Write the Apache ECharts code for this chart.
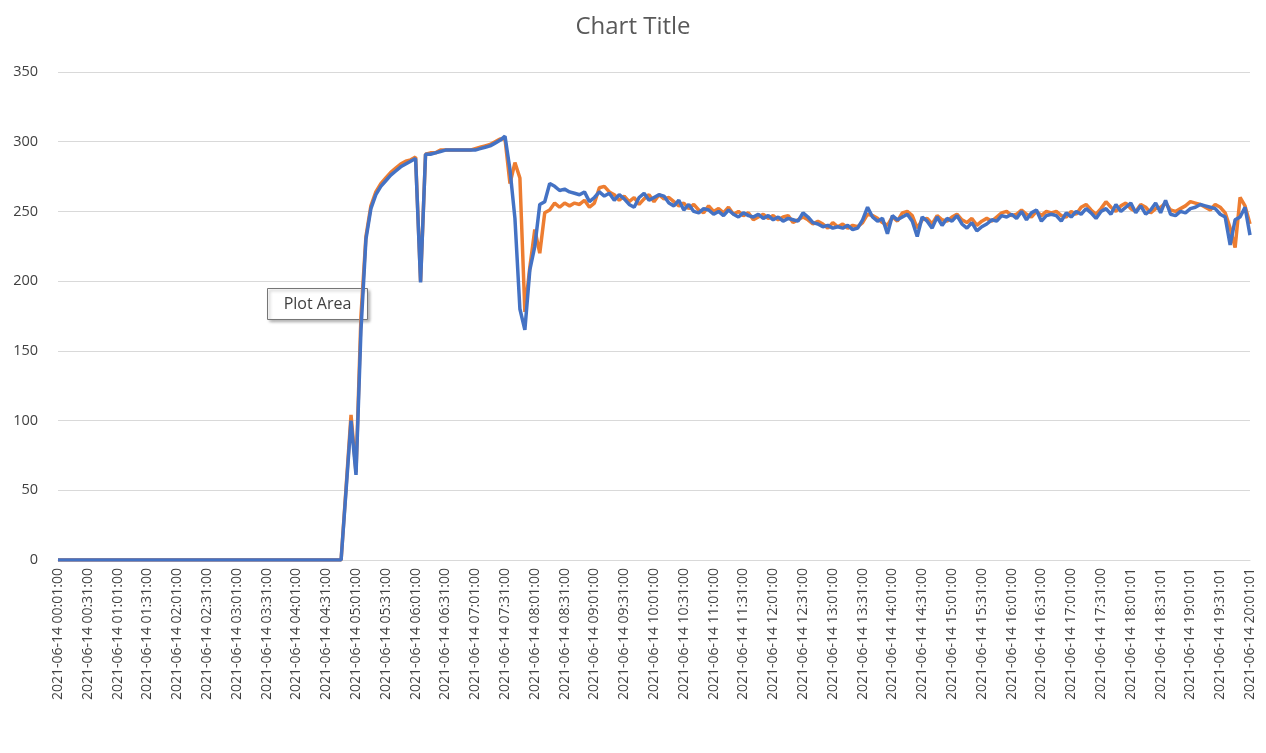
<!DOCTYPE html>
<html><head><meta charset="utf-8">
<script src="https://cdn.jsdelivr.net/npm/echarts@6/dist/echarts.min.js"></script>
<style>html,body{margin:0;padding:0;background:#fff}#c{width:1266px;height:753px}</style>
</head><body><div id="c"></div>
<script>
const zeros = [0,0,0,0,0,0,0,0,0,0, 0,0,0,0,0,0,0,0,0,0, 0,0,0,0,0,0,0,0,0,0, 0,0,0,0,0,0,0,0,0,0, 0,0,0,0,0,0,0,0,0,0, 0,0,0,0,0,0,0,0];
const blueStart = [50,100,61,165,230,252,262,268,272,276,279,282,284,286,288,199,291,291,292,293,294,294,294,294,294,294,294,295,296,297,299,301,304,280,245,180,165,208,225,255];
const orangeStart = [52,104,63,175,232,254,264,270,274,278,281,284,286,287,289,200,291,292,292,294,294,294,294,294,294,294,295,296,297,298,300,302,302,270,285,274,178,210,237,220];
const blueRest = [257,270,268,265,266,264,263, 262,264,257,260,264,261, 263,258,262,259,255,253, 260,263,258,260,262,261, 256,254,258,251,255,250, 249,252,251,248,250,247, 251,248,246,249,247,246, 248,245,247,244,246,243, 245,244,243,249,246,242, 241,239,240,238,239,238, 240,237,238,244,253,246, 243,245,234,247,244,246, 248,243,232,246,243,238, 246,240,245,243,247,241, 238,242,236,239,241,244, 243,247,246,248,245,250, 244,249,251,243,247,248, 247,243,249,246,250,248, 252,249,245,250,252,248, 255,250,253,256,249,254, 248,251,256,249,258,248, 247,250,249,252,253,255, 254,253,252,248,246,226, 244,246,253,233];
const orangeRest = [249,251,256,253,256,254,256, 255,258,253,256,267,268, 264,262,258,261,257,260, 255,259,262,257,262,259, 260,257,254,256,252,255, 251,249,254,250,252,249, 253,248,250,247,249,244, 246,248,245,247,244,246, 247,242,244,246,244,241, 243,241,238,242,239,241, 238,240,239,242,248,247, 245,242,240,246,243,249, 250,247,238,244,245,241, 247,244,243,246,248,244, 242,245,240,243,245,243, 246,249,250,247,248,251, 248,246,250,247,250,249, 250,247,246,250,248,253, 255,251,248,252,257,253, 250,254,256,252,250,255, 253,249,252,253,256,251, 250,252,254,257,256,255, 253,251,255,253,249,238, 224,260,254,241];
const blueSeries = zeros.concat(blueStart, blueRest);
const orangeSeries = zeros.concat(orangeStart, orangeRest);
const categories = [];
for (let i = 0; i < blueSeries.length; i++) {
  const m = 1 + 5 * i, hh = String(Math.floor(m / 60)).padStart(2, '0'), mm = String(m % 60).padStart(2, '0');
  categories.push('2021-06-14 ' + hh + ':' + mm + ':' + (i >= 212 ? '01' : '00'));
}
const chart = echarts.init(document.getElementById('c'));
chart.setOption({
  animation: false,
  title: { text: 'Chart Title', left: 'center', top: 10, textStyle: { color: '#595959', fontSize: 24, fontWeight: 'normal', fontFamily: 'Open Sans' } },
  grid: { left: 58, right: 16, top: 72, bottom: 193 },
  xAxis: { type: 'category', data: categories, boundaryGap: false,
    axisLine: { lineStyle: { color: '#d9d9d9' } }, axisTick: { show: false },
    axisLabel: { interval: 5, rotate: 90, color: '#404040', fontSize: 14, fontFamily: 'Open Sans', margin: 8 } },
  yAxis: { type: 'value', min: 0, max: 350, interval: 50,
    axisLine: { show: false }, axisTick: { show: false },
    splitLine: { lineStyle: { color: '#d9d9d9' } },
    axisLabel: { color: '#404040', fontSize: 14.5, fontFamily: 'Open Sans', margin: 20 } },
  series: [
    { type: 'line', data: orangeSeries, symbol: 'none', lineStyle: { color: '#ED7D31', width: 3.5 } },
    { type: 'line', data: blueSeries, symbol: 'none', lineStyle: { color: '#4472C4', width: 3.5 } }
  ],
  graphic: [{ type: 'group', left: 267, top: 288, children: [
    { type: 'rect', shape: { x: 0, y: 0, width: 100, height: 31 }, style: { fill: '#fff', stroke: '#767676', lineWidth: 1, shadowBlur: 3, shadowOffsetX: 2, shadowOffsetY: 2, shadowColor: 'rgba(0,0,0,0.3)' } },
    { type: 'text', x: 50, y: 16, style: { text: 'Plot Area', fill: '#404040', font: '16px "Open Sans"', align: 'center', verticalAlign: 'middle' } }
  ] }]
});
</script></body></html>
